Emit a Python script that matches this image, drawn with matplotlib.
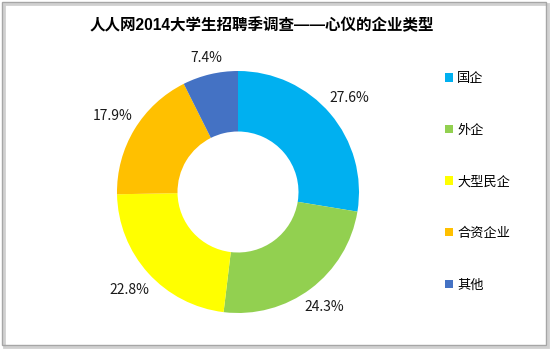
import matplotlib
matplotlib.use("Agg")
import numpy as np
import matplotlib.pyplot as plt
from matplotlib.patches import Rectangle

plt.rcParams['font.family'] = ['Noto Sans CJK SC', 'DejaVu Sans']

# Data
TITLE = "人人网2014大学生招聘季调查——心仪的企业类型"
categories = ["国企", "外企", "大型民企", "合资企业", "其他"]
shares = [27.6, 24.3, 22.8, 17.9, 7.4]
colors = ["#00B0F0", "#92D050", "#FFFF00", "#FFC000", "#4472C4"]

W, H = 554, 349
fig = plt.figure(figsize=(W / 100, H / 100), dpi=100)

# chart frame with a light shadow
fig.add_artist(Rectangle((4 / W, 2 / H), 544 / W, 343 / H, transform=fig.transFigure,
                         facecolor="none", edgecolor="#d0d0d0", lw=2.0, zorder=-2))
fig.add_artist(Rectangle((2 / W, 4 / H), 544 / W, 343 / H, transform=fig.transFigure,
                         facecolor="none", edgecolor="#a6a6a6", lw=1.0, zorder=-1))

fig.text(262 / W, 1 - 25 / H, TITLE, ha="center", va="center",
         fontsize=11.2, fontweight="bold", color="black",
         family=['Liberation Sans', 'Noto Sans CJK SC'])

# donut: centre (238, 192) px, radius 121 px
ax = fig.add_axes([117 / W, 36 / H, 242 / W, 242 / H])
wedges, _ = ax.pie(shares, colors=colors, startangle=90, counterclock=False,
                   radius=1.0, wedgeprops=dict(width=0.5, linewidth=0))
ax.set_xlim(-1, 1)
ax.set_ylim(-1, 1)
ax.set_aspect("equal")
ax.axis("off")

# outside labels, kept a small gap clear of the ring (like Excel's outside-end)
for w, v in zip(wedges, shares):
    th = np.deg2rad((w.theta1 + w.theta2) / 2)
    c, s = np.cos(th), np.sin(th)
    d = 6 + abs(c) * 19 + abs(s) * 7
    ax.annotate(f"{v:.1f}%", xy=(c, s), xytext=(c * d, s * d),
                textcoords="offset pixels", ha="center", va="center",
                fontsize=10, color="#1a1a1a", annotation_clip=False)

fig.legend(wedges, categories, loc="upper left",
           bbox_to_anchor=(440 / W, 1 - 67 / H), frameon=False,
           fontsize=9.5, handlelength=0.6, handleheight=0.6,
           handletextpad=0.3, labelspacing=2.92, borderaxespad=0)

fig.savefig("out.png", dpi=100)
